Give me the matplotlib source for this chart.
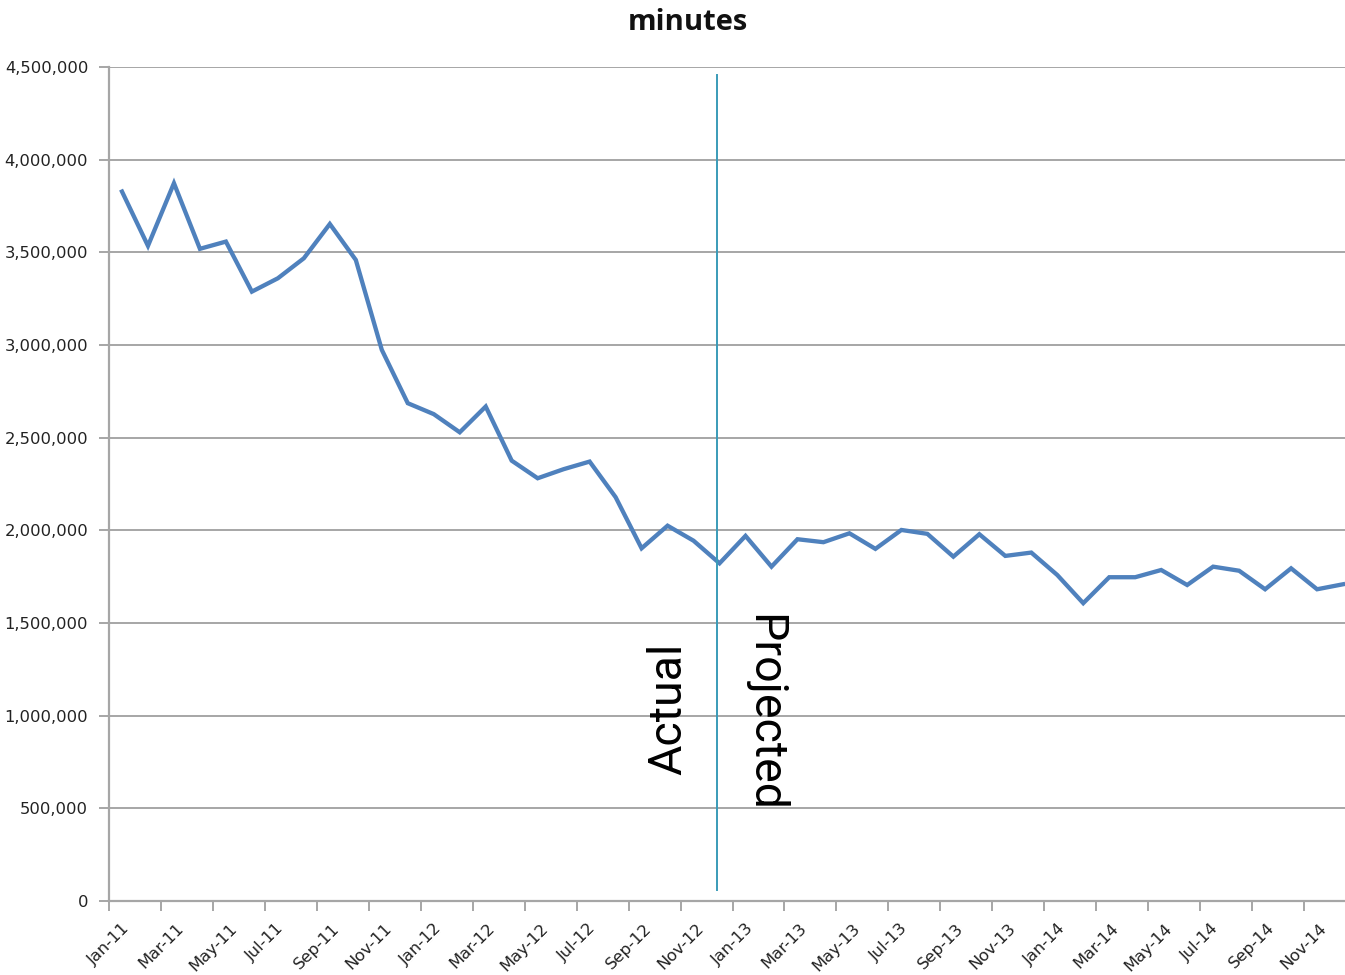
import matplotlib
matplotlib.use("Agg")
import matplotlib.pyplot as plt
import matplotlib.transforms as mtransforms
import numpy as np

months = ["Jan", "Feb", "Mar", "Apr", "May", "Jun", "Jul", "Aug", "Sep", "Oct", "Nov", "Dec"]
years = ["11", "12", "13", "14"]
categories = [f"{m}-{y}" for y in years for m in months]

minutes_2011 = [3828000, 3535000, 3873000, 3519000, 3558000, 3288000,
                3360000, 3468000, 3653000, 3459000, 2974000, 2686000]
minutes_2012 = [2627000, 2529000, 2668000, 2376000, 2281000, 2330000,
                2371000, 2179000, 1903000, 2025000, 1944000, 1822000]
minutes_2013 = [1970000, 1804000, 1952000, 1936000, 1984000, 1900000,
                2002000, 1981000, 1858000, 1979000, 1862000, 1880000]
minutes_2014 = [1759000, 1607000, 1747000, 1747000, 1786000, 1705000,
                1804000, 1782000, 1682000, 1795000, 1682000, 1709000]
values = minutes_2011 + minutes_2012 + minutes_2013 + minutes_2014

split_category = "Dec-12"
y_ticks = [0, 500000, 1000000, 1500000, 2000000, 2500000, 3000000, 3500000, 4000000, 4500000]
tick_labels = categories[::2]

fig = plt.figure(figsize=(13.45, 9.75), dpi=100)
ax = fig.add_axes([109 / 1345, 74 / 975, 1 - 109 / 1345, (901 - 67) / 975])

x = np.arange(len(values)) + 0.5
ax.plot(x, values, color="#4F81BD", lw=3.1, solid_joinstyle="miter", zorder=3)

ax.set_xlim(0, (1345 - 109) / 25.98)
ax.set_ylim(0, 4500000)
ax.set_yticks(y_ticks)
ax.set_yticklabels([f"{v:,.0f}" for v in y_ticks], fontsize=11.8, color="#222222")
ax.set_xticks(np.arange(0, len(values), 2))
ax.set_xticklabels(tick_labels, rotation=45, ha="center", fontsize=11.8, color="#222222")
shift = mtransforms.ScaledTranslation(-8 / 100, 0, fig.dpi_scale_trans)
for lbl in ax.get_xticklabels():
    lbl.set_transform(lbl.get_transform() + shift)
ax.grid(axis="y", color="#A6A6A6", lw=1.4)
ax.set_axisbelow(True)
for s in ["top", "right"]:
    ax.spines[s].set_visible(False)
for s in ["left", "bottom"]:
    ax.spines[s].set_color("#A6A6A6")
    ax.spines[s].set_linewidth(1.6)
ax.tick_params(axis="both", length=7, width=1.4, color="#A6A6A6")
ax.tick_params(axis="y", pad=8)
ax.tick_params(axis="x", pad=7)

xs = categories.index(split_category) + 0.5
ax.plot([xs - 0.08, xs - 0.08], [4458000, 59000], color="#3A9BB8", lw=1.4, zorder=4)

ax.text(21.52, 1035000, "Actual", rotation=90, fontsize=33.5, family="Roboto",
        ha="center", va="center", color="black")
ax.text(25.21, 1017000, "Projected", rotation=270, fontsize=33.5, family="Roboto",
        ha="center", va="center", color="black")

fig.text(688 / 1345, 1 - 22 / 975, "minutes", fontsize=21, fontweight="bold",
         family="Open Sans", ha="center", va="center", color="#111111")

fig.savefig("out.png", dpi=100)
